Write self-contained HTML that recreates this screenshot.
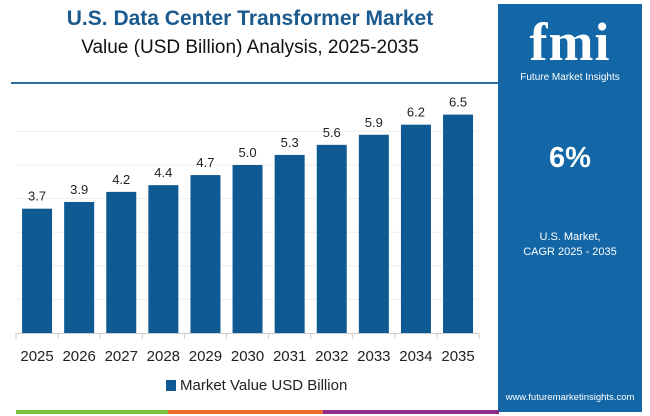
<!DOCTYPE html>
<html><head><meta charset="utf-8"><style>
body{margin:0;width:650px;height:416px;background:#fff;overflow:hidden;font-family:"Liberation Sans",sans-serif;position:relative}
.abs{position:absolute}
</style></head><body>
<div class="abs" style="left:0;width:500px;top:7px;text-align:center;font-size:21px;font-weight:bold;color:#1b5a8e">U.S. Data Center Transformer Market</div>
<div class="abs" style="left:0;width:500px;top:37px;text-align:center;font-size:19px;color:#111">Value (USD Billion) Analysis, 2025-2035</div>
<div class="abs" style="left:11px;top:82px;width:488px;height:2px;background:#2b6ea6"></div>
<div class="abs" style="left:498px;top:4px;width:144px;height:408px;background:#1367a7;color:#fff;text-align:center">
  <div style="margin-top:10px;font-family:'Liberation Serif',serif;font-size:54px;font-weight:bold;line-height:56px;letter-spacing:1px">fmi</div>
  <div style="font-size:10px;margin-top:2px">Future Market Insights</div>
  <div style="position:absolute;top:138px;width:100%;font-size:29px;font-weight:bold">6%</div>
  <div style="position:absolute;top:226px;width:100%;font-size:11px;line-height:15px">U.S. Market,<br>CAGR 2025 - 2035</div>
  <div style="position:absolute;top:388px;width:100%;font-size:9.5px">www.futuremarketinsights.com</div>
</div>
<div class="abs" style="left:16px;top:410px;width:152px;height:4px;background:#7cc242"></div>
<div class="abs" style="left:168px;top:410px;width:155px;height:4px;background:#ee6b2f"></div>
<div class="abs" style="left:323px;top:410px;width:176px;height:4px;background:#8e2c8e"></div>
<svg id="chart" class="abs" style="left:0;top:0" width="498" height="416"></svg>
<div class="abs" style="left:166px;top:377px;font-size:15px;color:#222;display:flex;align-items:center">
  <span style="display:inline-block;width:10px;height:11px;background:#0f5a93;margin-right:4px"></span>
  <span>Market Value USD Billion</span>
</div>
<script>
const categories=["2025","2026","2027","2028","2029","2030","2031","2032","2033","2034","2035"];
const values=[3.7,3.9,4.2,4.4,4.7,5.0,5.3,5.6,5.9,6.2,6.5];
const gridVals=[1,2,3,4,5,6];
const svg=document.getElementById('chart');
const NS='http://www.w3.org/2000/svg';
const base=333, unit=33.6, x0=16, pitch=42.1, bw=30;
const y=v=>base-v*unit;
const xs=i=>x0+i*pitch;
function mk(t,a){const e=document.createElementNS(NS,t);for(const k in a)e.setAttribute(k,a[k]);svg.appendChild(e);return e;}
gridVals.forEach(g=>{
  const l=mk('line',{x1:x0,x2:x0+categories.length*pitch,y1:y(g),y2:y(g),stroke:'#eeeeee','stroke-width':1});
  
  
});
const ax=mk('line',{x1:x0,x2:x0+categories.length*pitch,y1:base+0.5,y2:base+0.5,stroke:'#ccc'});


for(let i=0;i<=categories.length;i++){
  const t=mk('line',{x1:xs(i),x2:xs(i),y1:base,y2:base+6,stroke:'#ccc'});
  
  
}
categories.forEach((c,i)=>{
  const cx=xs(i)+pitch/2;
  const r=mk('rect',{x:cx-bw/2,y:y(values[i]),width:bw,height:values[i]*unit,fill:'#0f5a93'});
  
  
  const vl=mk('text',{x:cx,y:y(values[i])-8,'text-anchor':'middle','font-size':'13',fill:'#222'});
  vl.textContent=values[i].toFixed(1);
  
  
  const xl=mk('text',{x:cx,y:361,'text-anchor':'middle','font-size':'15',fill:'#222'});
  xl.textContent=c;
  
  
});
</script>
</body></html>
